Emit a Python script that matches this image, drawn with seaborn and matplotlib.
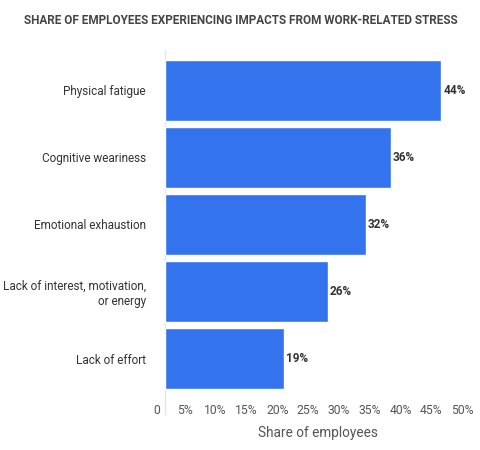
import matplotlib
matplotlib.use("Agg")
import matplotlib.pyplot as plt
import seaborn as sns
import pandas as pd

categories = ["Physical fatigue", "Cognitive weariness", "Emotional exhaustion",
              "Lack of interest, motivation,\nor energy", "Lack of effort"]
values = [44, 36, 32, 26, 19]
tick_labels = ["0", "5%", "10%", "15%", "20%", "25%", "30%", "35%", "40%", "45%", "50%"]

sns.set_theme(style="white")
plt.rcParams["font.family"] = ["Roboto", "DejaVu Sans"]

df = pd.DataFrame({"category": categories, "value": values})

fig = plt.figure(figsize=(4.8, 4.5), dpi=100)
ax = fig.add_axes([157/480, 1 - 392/450, (479 - 157)/480, 335/450])

sns.barplot(data=df, y="category", x="value", color="#3473EE", saturation=1,
            width=0.91, ax=ax, orient="h")

ax.set_xlim(0, 50)
ax.set_ylim(4.5, -0.5)

# value labels
for i, v in enumerate(values):
    ax.text(v + 0.3, i, f"{v}%", va="center", ha="left", fontsize=8.5,
            fontweight="bold", color="#333333")

# tick labels (positions in the reference are offset from the data scale)
px_per_unit = 322 / 50
tick_px = [149] + [177.5 + 31.6 * k for k in range(10)]
tick_pos = [(p - 157) / px_per_unit for p in tick_px]
ax.set_xticks(tick_pos)
ax.set_xticklabels(tick_labels, fontsize=8.7, color="#555555")
ax.tick_params(axis="x", length=0, pad=9)
ax.tick_params(axis="y", length=0, pad=8)
for lab in ax.get_yticklabels():
    lab.set_fontsize(8.5)
    lab.set_color("#333333")
    lab.set_horizontalalignment("right")
    lab.set_multialignment("right")

for s in ax.spines.values():
    s.set_visible(False)
ax.plot([0, 0], [-0.07, 1.02], transform=ax.get_xaxis_transform(),
        color="#e6e6e6", lw=1, clip_on=False, zorder=0)

ax.set_ylabel("")
ax.set_xlabel("Share of employees", fontsize=9.8, color="#555555", labelpad=6)

fig.text(241/480, 1 - 20/450, "SHARE OF EMPLOYEES EXPERIENCING IMPACTS FROM WORK-RELATED STRESS",
         ha="center", va="center", fontsize=8.5, fontweight="bold", color="#444444")

fig.savefig("out.png", dpi=100, facecolor="white")
